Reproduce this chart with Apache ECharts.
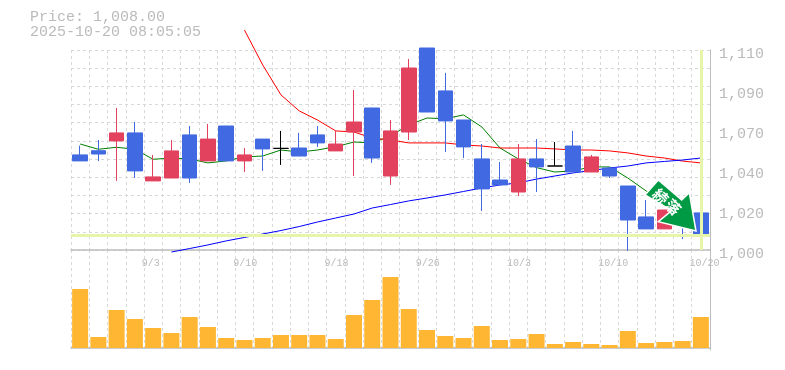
<!DOCTYPE html>
<html><head><meta charset="utf-8">
<style>html,body{margin:0;padding:0;background:#fff}#c{width:785px;height:370px}</style>
<script src="https://cdn.jsdelivr.net/npm/echarts@6/dist/echarts.min.js"></script>
</head><body><div id="c"></div>
<script>
const dates = ['8/28','8/29','9/1','9/2','9/3','9/4','9/5','9/8','9/9','9/10','9/11','9/12','9/16','9/17','9/18','9/19','9/22','9/24','9/25','9/26','9/29','9/30','10/1','10/2','10/3','10/6','10/7','10/8','10/9','10/10','10/14','10/15','10/16','10/17','10/20'];
const shownDates = ['9/3','9/10','9/18','9/26','10/3','10/10','10/20'];
const priceTickValues = [1000,1022,1044,1066,1088,1110];
const priceTickLabels = ['1,000','1,020','1,040','1,070','1,090','1,110'];
const titleLines = ['Price: 1,008.00','2025-10-20 08:05:05'];
const lastPrice = 1008;
// [open, close, low, high]
const candles = [
[1052.3,1049,1049,1057.4],[1054.6,1052.8,1048.9,1060.5],[1060,1064.4,1038,1078.1],[1064.4,1043.5,1039.6,1070.4],
[1038,1040.2,1038,1052.3],[1039.6,1054.5,1039.6,1060.5],[1063.3,1039.6,1036.9,1068.2],[1049,1061,1049,1069.3],
[1068.2,1049,1049,1068.2],[1049,1052.3,1042.9,1056.1],[1061,1055.6,1043.5,1061],[1055.9,1055.9,1046.8,1065.5],
[1056.1,1051.7,1051.7,1064.4],[1063.3,1058.9,1056.7,1068.2],[1054.5,1058.3,1054.5,1065.5],[1064.9,1070.4,1040.7,1088],
[1078.1,1050.6,1047.9,1078.1],[1040.7,1065.5,1035.8,1071.5],[1064.9,1100.1,1060.5,1105.1],[1111.1,1075.9,1075.9,1111.1],
[1087.5,1071,1053.9,1097.4],[1071.5,1056.7,1050.6,1071.5],[1050.1,1033.6,1021.5,1058.3],[1038.5,1035.8,1035.8,1048.4],
[1031.9,1050.1,1029.7,1058.3],[1050.1,1045.7,1031.9,1061],[1046.2,1046.2,1046.2,1059.4],[1057.2,1042.9,1042.9,1065.5],
[1042.9,1051.2,1042.9,1052.3],[1045.1,1040.7,1039.6,1045.1],[1035.2,1016.5,999.5,1035.2],[1018.2,1011.6,1011.6,1027.5],
[1011.6,1022,1011.6,1022],[1018.7,1014.3,1006,1018.7],[1020.4,1007.7,1006.6,1030.3]
];
const maShort = [1058.3,1055.4,1056.5,1055.4,1049.9,1050.6,1050.1,1047.9,1049,1051.2,1051.7,1055,1053.9,1055,1056.8,1059.4,1058.9,1062.7,1068.8,1072.6,1072.2,1074.3,1067.7,1056.1,1050.1,1045.3,1042.9,1043.5,1045.7,1045.7,1039.6,1032.5,1024.8,1018.7,1014.3];
const maMid = [null,null,null,null,null,null,null,null,null,1121,1101.8,1085.3,1076.5,1071.5,1065.5,1064.9,1061.6,1060.5,1058.9,1058.9,1058.9,1057.8,1057.2,1056.1,1056.1,1056.1,1055.6,1055,1055,1054.5,1053.4,1051.7,1050.6,1048.9,1047.9];
const maLong = [null,null,null,null,null,998.9,1000.8,1002.8,1005,1006.9,1008.8,1010.7,1012.9,1015.4,1017.6,1019.8,1023.1,1025,1027,1028.6,1030.3,1032.2,1034.1,1035.8,1036.9,1039,1040.7,1042.4,1043.7,1045.1,1046.2,1047.9,1048.7,1049.5,1050.6];
const volumes = [59,11,38,29,20,15,31,21,10,8,10,13,13,13,9,33,48,71,39,18,12,10,22,8,9,14,4,6,4,3,17,5,6,7,31];
const badgeText = ['続','落'];

const GREY='#bbbbbb', GRID='#d8d8d8', AXIS='#bdbdbd', HL='#e6f5a9', MONO='"Liberation Mono", monospace';
const chart = echarts.init(document.getElementById('c'),null,{renderer:'canvas'});
const dashed = {show:true,lineStyle:{color:GRID,type:[3,3],width:1}};
const L=71,W=639;
chart.setOption({
  animation:false,
  backgroundColor:'#fff',
  title:{left:30,top:10,padding:0,text:titleLines.join('\n'),textStyle:{fontFamily:MONO,fontSize:15,fontWeight:'normal',color:GREY,lineHeight:15}},
  grid:[{left:L,width:W,top:50,height:200},{left:L,width:W,top:250,height:100}],
  xAxis:[
   {type:'category',gridIndex:0,data:dates,boundaryGap:true,axisTick:{show:false},axisLine:{lineStyle:{color:AXIS,width:1.5}},
    splitLine:{...dashed,interval:0},
    axisLabel:{hideOverlap:false,interval:(i,v)=>shownDates.includes(v),margin:8,fontFamily:MONO,fontSize:10,color:GREY,padding:[0,0,0,7.4],formatter:v=>v.padEnd(5,' ')}},
   {type:'category',gridIndex:1,data:dates,boundaryGap:true,axisTick:{show:false},axisLine:{lineStyle:{color:AXIS,width:1.5}},
    splitLine:{...dashed,interval:0},axisLabel:{show:false}}
  ],
  yAxis:[
   {type:'value',gridIndex:0,position:'right',min:1000,max:1110,interval:10,axisTick:{show:false},
    axisLine:{show:true,lineStyle:{color:AXIS,width:1}},splitLine:dashed,
    axisLabel:{customValues:priceTickValues,margin:9,fontFamily:MONO,fontSize:15,color:GREY,verticalAlign:'top',lineHeight:8,
      formatter:v=>priceTickLabels[priceTickValues.indexOf(v)]}},
   {type:'value',gridIndex:1,position:'right',min:-2,max:98,axisTick:{show:false},
    axisLine:{show:true,lineStyle:{color:AXIS,width:1}},splitLine:{show:false},axisLabel:{show:false}}
  ],
  series:[
   {type:'line',name:'last',xAxisIndex:0,yAxisIndex:0,data:[],z:1,silent:true,
    markLine:{silent:true,symbol:'none',label:{show:false},lineStyle:{color:HL,width:3,type:'solid'},
      data:[{yAxis:lastPrice},{xAxis:dates[dates.length-1]}]}},
   {type:'line',name:'short',data:maShort,xAxisIndex:0,yAxisIndex:0,showSymbol:false,clip:false,z:2,lineStyle:{color:'#008000',width:1}},
   {type:'line',name:'mid',data:maMid,xAxisIndex:0,yAxisIndex:0,showSymbol:false,clip:false,z:2,lineStyle:{color:'#ff0000',width:1}},
   {type:'line',name:'long',data:maLong,xAxisIndex:0,yAxisIndex:0,showSymbol:false,clip:false,z:2,lineStyle:{color:'#0000ff',width:1}},
   {type:'candlestick',data:candles,xAxisIndex:0,yAxisIndex:0,barWidth:15,clip:false,z:3,
    itemStyle:{color:'#e3425f',color0:'#4169e1',borderColor:'#e3425f',borderColor0:'#4169e1',borderColorDoji:'#000000',borderWidth:1}},
   {type:'bar',data:volumes,xAxisIndex:1,yAxisIndex:1,barWidth:16,z:3,itemStyle:{color:'#ffb733'}},
   {type:'custom',coordinateSystem:'none',z:20,silent:true,data:[0],clip:false,
    renderItem:()=>({type:'group',children:[
      {type:'polygon',shape:{points:[[645,195],[658.3,180],[681.7,200],[689.3,192.7],[696,231],[658.3,221.7],[671.7,210.7]]},
       style:{fill:'#009944',stroke:'#ffffff',lineWidth:1.5}},
      {type:'text',x:660.5,y:196.5,rotation:-Math.PI/4,style:{text:badgeText[0],x:0,y:0,align:'center',verticalAlign:'middle',fill:'#fff',font:'bold 15px "Noto Sans CJK JP"'}},
      {type:'text',x:673,y:207,rotation:-Math.PI/4,style:{text:badgeText[1],x:0,y:0,align:'center',verticalAlign:'middle',fill:'#fff',font:'bold 15px "Noto Sans CJK JP"'}}
    ]})}
  ]
});
</script></body></html>
